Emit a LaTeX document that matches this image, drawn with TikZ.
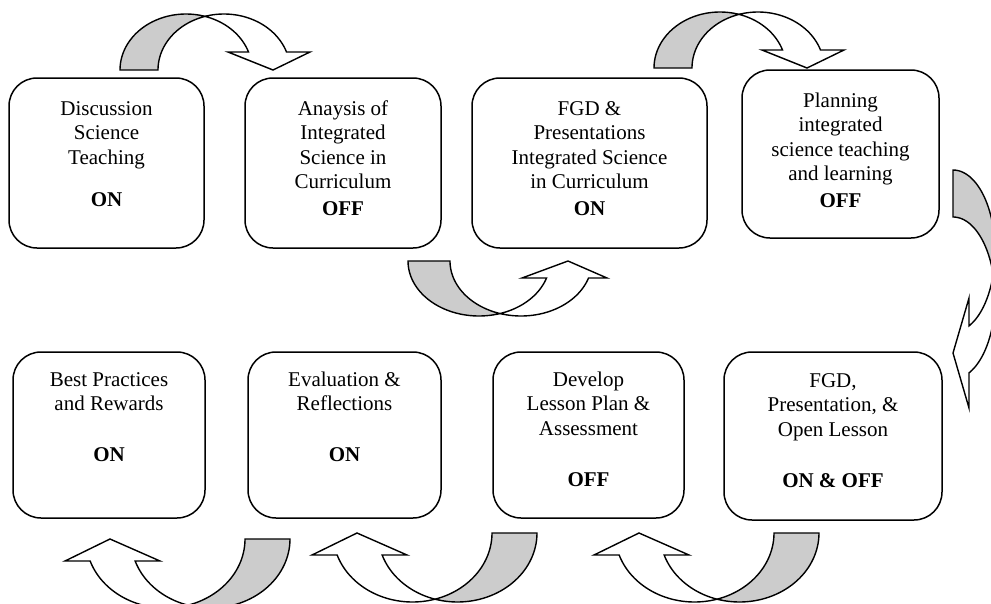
\documentclass[tikz,border=0pt]{standalone}
\usepackage{fontspec}
\setmainfont{Liberation Serif}
\definecolor{arrowgray}{RGB}{204,204,204}
% curved-down arrow (tail left, head right)
\newcommand\mycurveddown{%
  \path[back] plot[domain=-180:-73.27] ({186+66*cos(\t)},{70+56*sin(\t)})
    -- plot[domain=-106.73:-180] ({224+66*cos(\t)},{70+56*sin(\t)}) -- cycle;
  \path[front] plot[domain=-106.73:-18.75] ({224+66*cos(\t)},{70+56*sin(\t)})
    -- (310,52) -- (273,70) -- (228,52)
    -- plot[domain=-18.75:-73.27] ({186+66*cos(\t)},{70+56*sin(\t)}) -- cycle;}
% curved-up arrow (tail right, head left)
\newcommand\mycurvedupleft{%
  \path[back] plot[domain=0:106.4] ({457.5+79.5*cos(\t)},{533+69*sin(\t)})
    -- plot[domain=73.6:0] ({412.5+79.5*cos(\t)},{533+69*sin(\t)}) -- cycle;
  \path[front] plot[domain=73.6:161.4] ({412.5+79.5*cos(\t)},{533+69*sin(\t)})
    -- (312,555) -- (357,533) -- (407,555)
    -- plot[domain=161.4:106.4] ({457.5+79.5*cos(\t)},{533+69*sin(\t)}) -- cycle;}
\begin{document}
\begin{tikzpicture}[x=1pt,y=-1pt,
  box/.style={draw, line width=1.5pt, rounded corners=28pt, inner sep=0pt},
  txt/.style={align=center, inner sep=0pt, anchor=north, font=\fontsize{21}{24.4}\selectfont},
  band/.style={draw, line width=1.4pt, line join=miter},
  back/.style={band, fill=arrowgray},
  front/.style={band, fill=white},
  every plot/.style={variable=\t, samples=40}]
\useasboundingbox (0,0) rectangle (991,603);
\clip (0,0) rectangle (991,603);
\fill[white] (0,0) rectangle (991,603);

% boxes
\node[box, minimum width=195pt, minimum height=170pt] (b1) at (106.5,163) {};
\node[box, minimum width=196pt, minimum height=170pt] (b2) at (343,163) {};
\node[box, minimum width=235pt, minimum height=170pt] (b3) at (589.5,163) {};
\node[box, minimum width=197pt, minimum height=168pt] (b4) at (840.5,154) {};
\node[box, minimum width=192pt, minimum height=166pt] (b5) at (109,435) {};
\node[box, minimum width=193pt, minimum height=166pt] (b6) at (344.5,435) {};
\node[box, minimum width=191pt, minimum height=166pt] (b7) at (588.5,435) {};
\node[box, minimum width=218pt, minimum height=168pt] (b8) at (833,436) {};

% texts
\node[txt] (t1) at ([yshift=-21pt]b1.north) {\strut Discussion\\Science\\Teaching\\[17.6pt]\textbf{ON}};
\node[txt] (t2) at ([yshift=-21pt]b2.north) {\strut Anaysis of\\Integrated\\Science in\\Curriculum\\[2.5pt]\textbf{OFF}};
\node[txt] (t3) at ([yshift=-21pt]b3.north) {\strut FGD \&\\Presentations\\Integrated Science\\in Curriculum\\[2.5pt]\textbf{ON}};
\node[txt] (t4) at ([yshift=-21pt]b4.north) {\strut Planning\\integrated\\science teaching\\and learning\\[2pt]\textbf{OFF}};
\node[txt] (t5) at ([yshift=-18pt]b5.north) {\strut Best Practices\\and Rewards\\[26.6pt]\textbf{ON}};
\node[txt] (t6) at ([yshift=-18pt]b6.north) {\strut Evaluation \&\\Reflections\\[26.6pt]\textbf{ON}};
\node[txt] (t7) at ([yshift=-18pt]b7.north) {\strut Develop\\Lesson Plan \&\\Assessment\\[26.6pt]\textbf{OFF}};
\node[txt] (t8) at ([yshift=-19pt]b8.north) {\strut FGD,\\Presentation, \&\\Open Lesson\\[26.6pt]\textbf{ON \& OFF}};

% top curved arrows
\mycurveddown
\begin{scope}[shift={(534,-2)}]\mycurveddown\end{scope}

% middle curved-up arrow
\path[back] plot[domain=180:72.8] ({479+71*cos(\t)},{261+55*sin(\t)})
  -- plot[domain=107.2:180] ({521+71*cos(\t)},{261+55*sin(\t)}) -- cycle;
\path[front] plot[domain=107.2:18] ({521+71*cos(\t)},{261+55*sin(\t)})
  -- (607,278) -- (568,261) -- (522,278)
  -- plot[domain=18:72.8] ({479+71*cos(\t)},{261+55*sin(\t)}) -- cycle;

% right curved-left arrow
\path[back] plot[domain=-90:16.9] ({953+42*cos(\t)},{251+81*sin(\t)})
  -- plot[domain=-16.9:-90] ({953+42*cos(\t)},{298+81*sin(\t)}) -- cycle;
\path[front] plot[domain=-16.9:67.6] ({953+42*cos(\t)},{298+81*sin(\t)})
  -- (969,408) -- (953,353) -- (969,298)
  -- plot[domain=67.6:16.9] ({953+42*cos(\t)},{251+81*sin(\t)}) -- cycle;

% bottom curved-up arrows
\begin{scope}[shift={(-247,6)}]\mycurvedupleft\end{scope}
\mycurvedupleft
\begin{scope}[shift={(282,0)}]\mycurvedupleft\end{scope}
\end{tikzpicture}
\end{document}
